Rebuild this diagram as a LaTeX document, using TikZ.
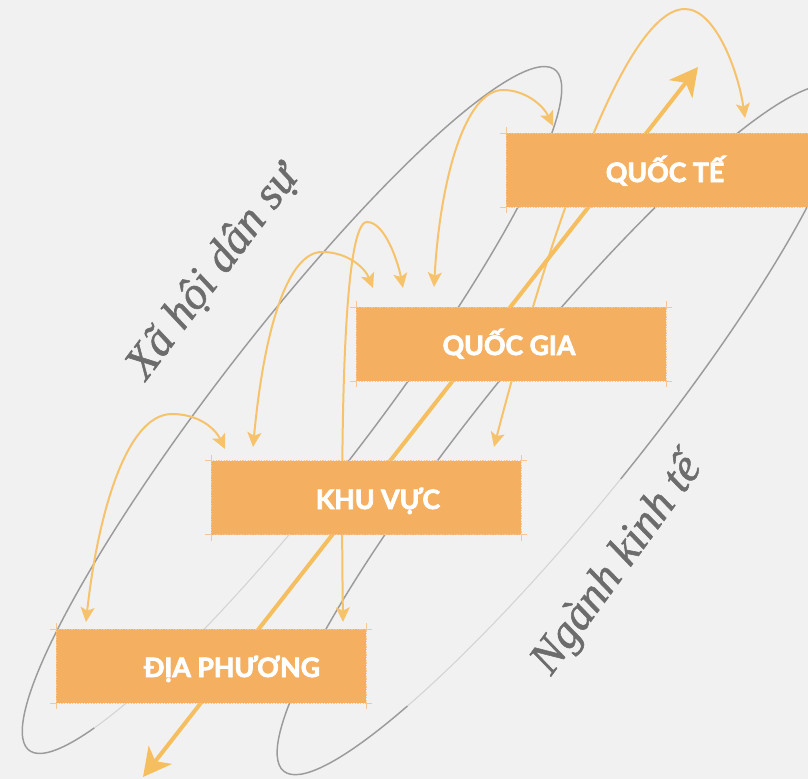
\documentclass[tikz,border=0pt]{standalone}
\usepackage{fontspec}
\usetikzlibrary{arrows.meta,calc}
\newfontfamily\boxfont{Lato}[BoldFeatures={FakeBold=3}]
\newfontfamily\lblfont{Liberation Serif}[ItalicFeatures={FakeBold=1.2}]
\definecolor{bgc}{RGB}{241,241,241}
\definecolor{boxor}{RGB}{244,175,96}
\definecolor{tickc}{RGB}{246,198,150}
\definecolor{arr}{RGB}{246,195,108}
\definecolor{bigarr}{RGB}{245,190,95}
\definecolor{ellc}{RGB}{155,155,155}
\definecolor{ellf}{RGB}{212,212,212}
\definecolor{lblc}{RGB}{108,108,108}
\tikzset{
  levelbox/.style={rectangle, fill=boxor, draw=tickc, line width=0.3pt, dash pattern=on 1pt off 1pt, inner sep=0pt, outer sep=0pt, minimum width=232.5pt, minimum height=55.5pt},
  leveltext/.style={anchor=base, text=white, font={\boxfont\bfseries\fontsize{20pt}{24pt}\selectfont}, inner sep=0pt},
  sidelabel/.style={anchor=base, text=lblc, font={\lblfont\itshape\fontsize{34.5pt}{38pt}\selectfont}, inner sep=0pt},
  flow/.style={draw=arr, line width=1.5pt, arrows={Stealth[length=11pt,width=10.5pt,inset=2.5pt]-Stealth[length=11pt,width=10.5pt,inset=2.5pt]}},
  bigflow/.style={draw=bigarr, line width=3pt, arrows={Stealth[length=21pt,width=22pt,inset=6pt]-Stealth[length=21pt,width=22pt,inset=6pt]}},
  ellline/.style={draw=ellc, line width=1.1pt},
  ellfaintline/.style={draw=ellf, line width=0.8pt},
  cornertick/.style={draw=tickc, line width=0.6pt},
}
\begin{document}
\begin{tikzpicture}[x=0.75pt,y=-0.75pt]
\useasboundingbox (0,0) rectangle (808,779);
\fill[bgc] (0,0) rectangle (808,779);
\clip (0,0) rectangle (808,779);

% ellipses
\begin{scope}[shift={(292,410)}, rotate=52.3]
  \draw[ellline] (150:430 and 76) arc[start angle=150, end angle=455, x radius=430, y radius=76];
  \draw[ellfaintline] (95:430 and 76) arc[start angle=95, end angle=150, x radius=430, y radius=76];
\end{scope}
\begin{scope}[shift={(560,430)}, rotate=51]
  \draw[ellline] (135:439 and 78) arc[start angle=135, end angle=450, x radius=439, y radius=78];
  \draw[ellfaintline] (90:439 and 78) arc[start angle=90, end angle=135, x radius=439, y radius=78];
\end{scope}

% side labels
\node[sidelabel, rotate=53] (civil) at (223,279) {Xã hội dân sự};
\node[sidelabel, rotate=54] (econ) at (627,572) {Ngành kinh tế};

% curved flows
\coordinate (a1) at (494,447); \coordinate (a2) at (685,9); \coordinate (a3) at (745,118);
\coordinate (b1) at (434,287); \coordinate (b2) at (503,90); \coordinate (b3) at (553,126);
\coordinate (c1) at (343,622); \coordinate (c2) at (367,222); \coordinate (c3) at (403,288);
\coordinate (d1) at (253,447); \coordinate (d2) at (322,252); \coordinate (d3) at (373,288);
\coordinate (e1) at (86,622);  \coordinate (e2) at (172,414); \coordinate (e3) at (225,449);
\draw[flow] (a1) .. controls (540,270) and (620,9) .. (a2) .. controls (715,9) and (738,70) .. (a3);
\draw[flow] (b1) .. controls (440,180) and (465,90) .. (b2) .. controls (525,90) and (543,105) .. (b3);
\draw[flow] (c1) .. controls (340,400) and (345,222) .. (c2) .. controls (385,222) and (398,262) .. (c3);
\draw[flow] (d1) .. controls (265,320) and (290,252) .. (d2) .. controls (348,252) and (365,268) .. (d3);
\draw[flow] (e1) .. controls (97,520) and (125,414) .. (e2) .. controls (198,414) and (215,428) .. (e3);

% big arrow
\coordinate (g1) at (143,777); \coordinate (g2) at (698,67);
\draw[bigflow] (g1) -- (g2);

% boxes
\node[levelbox] (qt) at (661,170) {};
\node[levelbox] (qg) at (511,344) {};
\node[levelbox] (kv) at (366,497.5) {};
\node[levelbox] (dp) at (211,666) {};
\foreach \b in {qt,qg,kv,dp}{
  \draw[cornertick] (\b.north west) -- ++(-6,0);
  \draw[cornertick] (\b.north west) -- ++(0,-6);
  \draw[cornertick] (\b.south west) -- ++(-6,0);
  \draw[cornertick] (\b.south west) -- ++(0,6);
  \draw[cornertick] (\b.north east) -- ++(6,0);
  \draw[cornertick] (\b.north east) -- ++(0,-6);
  \draw[cornertick] (\b.south east) -- ++(6,0);
  \draw[cornertick] (\b.south east) -- ++(0,6);
}
\node[leveltext] (qtl) at (665,182) {QUỐC TẾ};
\node[leveltext] (qgl) at (509,355) {QUỐC GIA};
\node[leveltext] (kvl) at (378,509) {KHU VỰC};
\node[leveltext] (dpl) at (232,677) {ĐỊA PHƯƠNG};
\end{tikzpicture}
\end{document}
